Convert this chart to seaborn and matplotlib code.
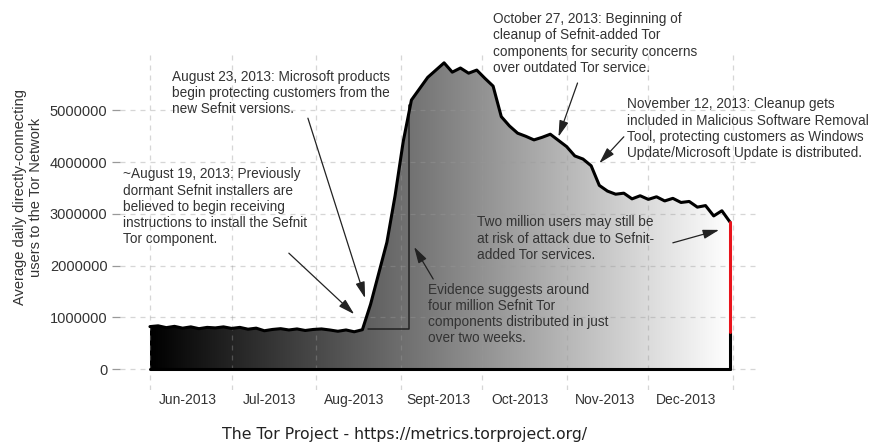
import numpy as np
import pandas as pd
import matplotlib
matplotlib.use('Agg')
import matplotlib.pyplot as plt
import matplotlib.dates as mdates
from matplotlib.patches import PathPatch
from matplotlib.ticker import FuncFormatter
import seaborn as sns

# data: daily directly-connecting users, read every 3 days (thousands)
start_date = '2013-06-01'
users_k = [820, 835, 800, 825, 790, 815, 780, 805, 795, 815,
           785, 805, 770, 790, 740, 765, 780, 755, 775, 745,
           765, 775, 755, 730, 755, 720, 760, 1250, 1850, 2450,
           3350, 4400, 5200, 5420, 5640, 5780, 5920, 5740, 5820, 5720,
           5780, 5620, 5470, 4880, 4700, 4560, 4500, 4430, 4480, 4540,
           4420, 4300, 4120, 4060, 3930, 3550, 3440, 3380, 3400, 3290,
           3350, 3280, 3330, 3250, 3300, 3220, 3240, 3130, 3160, 2960,
           3060, 2840]
dates = pd.date_range(start_date, periods=len(users_k), freq='3D')
users = np.array(users_k) * 1000

month_labels = {6: 'Jun-2013', 7: 'Jul-2013', 8: 'Aug-2013', 9: 'Sept-2013',
                10: 'Oct-2013', 11: 'Nov-2013', 12: 'Dec-2013'}
y_ticks = [0, 1000000, 2000000, 3000000, 4000000, 5000000]

# "four million in two weeks" box
box_start, box_end = '2013-08-20', '2013-09-04'
box_base, box_top = 780000, 5100000
# users still at risk (red segment at the end)
at_risk_low = 720000

# annotations: text, text top-left (date, value), arrow tail, arrow tip
notes = [
    ("August 23, 2013: Microsoft products\nbegin protecting customers from the\nnew Sefnit versions.",
     ('2013-06-09', 5780000), ('2013-07-29', 4850000), ('2013-08-19', 1370000)),
    ("~August 19, 2013: Previously\ndormant Sefnit installers are\nbelieved to begin receiving\n"
     "instructions to install the Sefnit\nTor component.",
     ('2013-05-22', 3900000), ('2013-07-22', 2240000), ('2013-08-15', 1060000)),
    ("Evidence suggests around\nfour million Sefnit Tor\ncomponents distributed in just\nover two weeks.",
     ('2013-09-11', 1670000), ('2013-09-13', 1740000), ('2013-09-06', 2360000)),
    ("October 27, 2013: Beginning of\ncleanup of Sefnit-added Tor\ncomponents for security concerns\n"
     "over outdated Tor service.",
     ('2013-10-05', 6900000), ('2013-11-05', 5530000), ('2013-10-29', 4490000)),
    ("November 12, 2013: Cleanup gets\nincluded in Malicious Software Removal\nTool, protecting customers as Windows\n"
     "Update/Microsoft Update is distributed.",
     ('2013-11-23', 5250000), ('2013-11-22', 4490000), ('2013-11-13', 3980000)),
    ("Two million users may still be\nat risk of attack due to Sefnit-\nadded Tor services.",
     ('2013-09-29', 2970000), ('2013-12-10', 2440000), ('2013-12-27', 2690000)),
]

sns.set_style('white')
plt.rcParams['font.family'] = ['Liberation Sans', 'DejaVu Sans']

fig = plt.figure(figsize=(8.69, 4.44), dpi=100)
ax = fig.add_axes([120 / 869, 0.1216, 640 / 869, 0.759])

d = mdates.date2num(dates)

# gradient fill under the curve
poly = ax.fill_between(d, users, 0, color='none', lw=0)
clip = PathPatch(poly.get_paths()[0], transform=ax.transData, facecolor='none', edgecolor='none')
ax.add_patch(clip)
grad = np.linspace(0, 1, 256).reshape(1, -1)
im = ax.imshow(grad, cmap='gray', extent=[d[0], d[-1], 0, users.max()],
               aspect='auto', origin='lower', zorder=1)
im.set_clip_path(clip)

sns.lineplot(x=d, y=users, color='black', lw=2.2, ax=ax, zorder=4)
ax.plot([d[0], d[-1]], [0, 0], color='black', lw=2.2, zorder=4)
ax.plot([d[-1], d[-1]], [0, at_risk_low], color='black', lw=2.2, zorder=4)
ax.plot([d[-1], d[-1]], [at_risk_low, users[-1]], color='#e8141c', lw=2.2, zorder=5)

bs, be = mdates.date2num(pd.Timestamp(box_start)), mdates.date2num(pd.Timestamp(box_end))
ax.plot([bs, be, be], [box_base, box_base, box_top], color='#222222', lw=1.1, zorder=3)

for text, pos, tail, tip in notes:
    ax.text(mdates.date2num(pd.Timestamp(pos[0])), pos[1], text, ha='left', va='top',
            fontsize=9.8, color='#333333', linespacing=1.2, zorder=6, clip_on=False)
    ax.annotate('', xy=(mdates.date2num(pd.Timestamp(tip[0])), tip[1]),
                xytext=(mdates.date2num(pd.Timestamp(tail[0])), tail[1]),
                arrowprops=dict(arrowstyle='-|>,head_length=0.7,head_width=0.2', color='#222222',
                                lw=0.9, mutation_scale=14, shrinkA=0, shrinkB=0),
                zorder=6, annotation_clip=False)

ax.set_xlim(mdates.date2num(pd.Timestamp('2013-05-21')), mdates.date2num(pd.Timestamp('2014-01-11')))
ax.set_ylim(-406000, 6110000)

ax.xaxis.set_major_locator(mdates.MonthLocator())
ax.xaxis.set_major_formatter(plt.NullFormatter())
ax.xaxis.set_minor_locator(mdates.MonthLocator(bymonthday=15))
ax.xaxis.set_minor_formatter(FuncFormatter(lambda v, p: month_labels.get(mdates.num2date(v).month, '')))
ax.tick_params(axis='x', which='both', length=0, pad=2, labelsize=10, labelcolor='#333333')
ax.set_yticks(y_ticks)
ax.yaxis.set_major_formatter(FuncFormatter(lambda v, p: f'{int(v)}'))
ax.tick_params(axis='y', length=6, width=0.9, color='#999999', pad=3, labelsize=10.5,
               labelcolor='#333333', left=True)

ax.set_axisbelow(False)
ax.grid(True, which='major', ls=(0, (4, 4)), color='#999999', alpha=0.4, lw=0.9)
for s in ax.spines.values():
    s.set_visible(False)
ax.set_xlabel('')
ax.set_ylabel('')

fig.text(28 / 869, 1 - 197 / 444, 'Average daily directly-connecting\nusers to the Tor Network',
         rotation=90, ha='center', va='center', fontsize=10.5, color='#333333', linespacing=1.25)
fig.text(404 / 869, 1 - 434 / 444, 'The Tor Project - https://metrics.torproject.org/',
         ha='center', va='center', fontsize=11.3, family='DejaVu Sans', color='#222222')

fig.savefig('out.png', dpi=100)
